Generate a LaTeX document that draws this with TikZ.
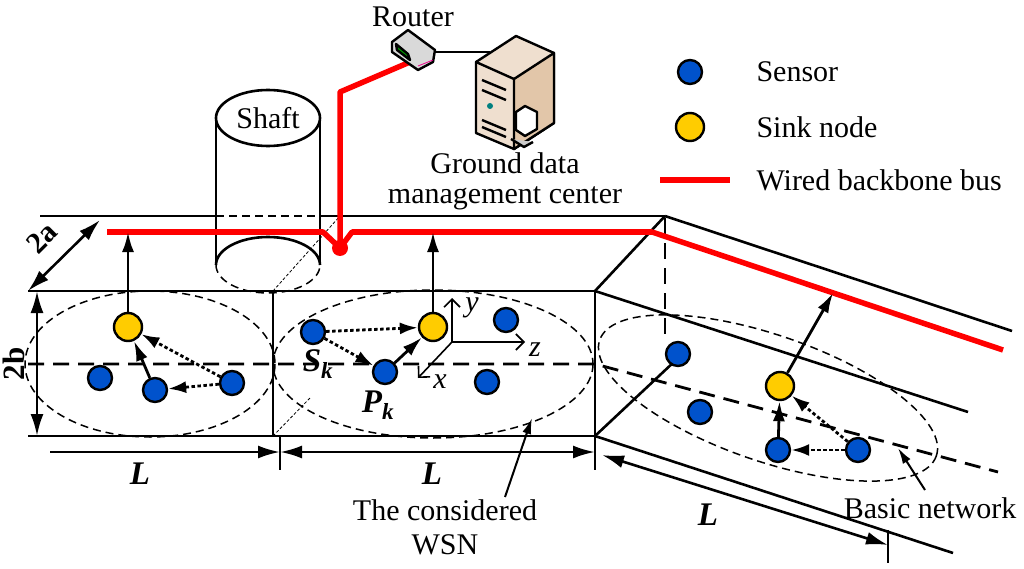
\documentclass[tikz,border=0pt]{standalone}
\usepackage{fontspec}
\setmainfont{Liberation Serif}
\usetikzlibrary{arrows.meta,shapes.geometric}
\begin{document}
\begin{tikzpicture}[x=1pt,y=-1pt,
 sen/.style={circle,draw=black,line width=2.4pt,fill=blue!60!cyan!80!black,minimum size=24pt,inner sep=0pt},
 sink/.style={circle,draw=black,line width=2.4pt,fill=orange!40!yellow,minimum size=28pt,inner sep=0pt},
 edge/.style={line width=2.6pt},
 thin dash/.style={line width=0.8pt,dash pattern=on 3pt off 2pt},
 ell/.style={line width=1.5pt,dash pattern=on 8pt off 5pt},
 mid/.style={line width=2.8pt,dash pattern=on 16pt off 9pt},
 arr/.style={line width=2.8pt,-{Latex[length=20pt,width=12pt]}},
 dot/.style={line width=2.8pt,dash pattern=on 3.5pt off 2.5pt,-{Latex[length=18pt,width=12pt]}},
 dim/.style={line width=2.6pt,{Latex[length=22pt,width=13pt]}-{Latex[length=22pt,width=13pt]}},
 bus/.style={red,line width=5.5pt},
 txt/.style={font=\fontsize{30}{34}\selectfont},
 lab/.style={font=\fontsize{33}{36}\selectfont\bfseries\itshape}]
\useasboundingbox (0,0) rectangle (1024,569);
% shaft
\draw[line width=2.6pt] (216,118) -- (216,265) (320,118) -- (320,265);
\draw[line width=2.6pt] (216,265) arc[start angle=180,end angle=360,x radius=52,y radius=28];
\draw[ell] (216,265) arc[start angle=180,end angle=0,x radius=52,y radius=28];
\node[draw,ellipse,line width=2.6pt,minimum width=104pt,minimum height=56pt,inner sep=0pt,fill=white,txt] (shaft) at (268,118) {Shaft};
% tunnel box
\draw[edge] (40,216) -- (216,216) (320,216) -- (665,216);
\draw[ell] (216,216) -- (320,216);
\draw[edge] (28,291) -- (595,291) (28,436) -- (595,436);
\draw[line width=1.3pt] (273,291) -- (273,436);
\draw[thin dash] (273,291) -- (340,216) (273,436) -- (310,398);
\draw[edge] (595,291) -- (595,470);
\draw[edge] (595,291) -- (665,216);
\draw[edge] (665,216) -- (1012,331) (595,291) -- (968,412) (595,436) -- (953,553);
\draw[mid] (665,218) -- (665,337);
\draw[edge] (595,436) -- (676,360);
\draw[mid] (28,364) -- (595,364) -- (998,472);
% ellipses
\draw[ell] (150,364) ellipse[x radius=125,y radius=73];
\draw[ell] (433,364) ellipse[x radius=160,y radius=74];
\draw[ell,rotate around={-19:(768,398)}] (768,398) ellipse[x radius=178,y radius=63];
% bus
\draw[bus,line join=round] (107,232) -- (323,232) -- (340,248) -- (352,232) -- (652,232) -- (1003,350);
\draw[bus,line join=round] (340,248) -- (340,92) -- (410,62);
\fill[red] (340,248) circle (8);
% router & computer
\node[txt] (router) at (413,17) {Router};
\draw[line width=2.4pt] (430,52) -- (490,52);
\begin{scope}[line width=2.4pt,line join=round]
\draw[fill=gray!30] (392,42) -- (408,30) -- (435,50) -- (433,62) -- (418,70) -- (392,52) -- cycle;
\draw[fill=green!60!black] (396,44) -- (408,54) -- (410,60) -- (397,50) -- cycle;
\draw[magenta,line width=0.8pt] (418,66) -- (433,60);
\end{scope}
\begin{scope}[line width=2.4pt,line join=round]
\draw[fill=brown!25] (476,62) -- (516,36) -- (554,53) -- (554,123) -- (514,149) -- (476,133) -- cycle;
\draw[fill=brown!45] (514,79) -- (554,53) -- (554,123) -- (514,149) -- cycle;
\draw (476,62) -- (514,79);
\draw (482,80) -- (506,90) (482,90) -- (506,100) (482,120) -- (506,130) (482,127) -- (506,137);
\fill[teal] (490,106) circle (3);
\draw[fill=white] (516,112) -- (525,106) -- (537,112) -- (537,129) -- (525,136) -- (516,130) -- cycle;
\draw[fill=gray!40] (511,139) -- (524,147) -- (533,142);
\end{scope}
\node[txt] (gd1) at (505,163) {Ground data};
\node[txt] (gd2) at (505,198) {management center};
% legend
\node[sen] (l1) at (690,72) {};
\node[txt,anchor=west] at (753,72) {Sensor};
\node[sink] (l2) at (690,127) {};
\node[txt,anchor=west] at (753,127) {Sink node};
\draw[bus] (660,180) -- (730,180);
\node[txt,anchor=west] at (753,180) {Wired backbone bus};
% nodes left
\node[sink] (a0) at (128,327) {};
\node[sen] (a1) at (100,378) {};
\node[sen] (a2) at (155,390) {};
\node[sen] (a3) at (232,383) {};
% middle
\node[sink] (b0) at (433,327) {};
\node[sen] (b1) at (313,332) {};
\node[sen] (b2) at (385,372) {};
\node[sen] (b3) at (506,320) {};
\node[sen] (b4) at (487,382) {};
% right
\node[sen] (c1) at (678,354) {};
\node[sink] (c0) at (780,386) {};
\node[sen] (c2) at (700,412) {};
\node[sen] (c3) at (778,450) {};
\node[sen] (c4) at (858,450) {};
\coordinate (ta) at (128,232); \coordinate (tb) at (433,232); \coordinate (tc) at (833,293);
\draw[arr] (a0) -- (ta);
\draw[arr] (b0) -- (tb);
\draw[arr] (c0) -- (tc);
\draw[arr] (a2) -- (a0);
\draw[dot] (a3) -- (a0);
\draw[dot] (a3) -- (a2);
\draw[dot] (b1) -- (b0);
\draw[dot] (b1) -- (b2);
\draw[arr] (b2) -- (b0);
\draw[arr] (c3) -- (c0);
\draw[dot] (c4) -- (c0);
\draw[dot] (c4) -- (c3);
% axes
\coordinate (o) at (452,342);
\draw[line width=1.6pt,-{Straight Barb[length=8pt]}] (o) -- (452,298);
\draw[line width=1.6pt,-{Straight Barb[length=8pt]}] (o) -- (525,342);
\draw[line width=1.6pt,-{Straight Barb[length=8pt]}] (o) -- (418,378);
\node[font=\fontsize{30}{32}\selectfont\itshape] at (472,308) {y};
\node[font=\fontsize{30}{32}\selectfont\itshape] at (535,350) {z};
\node[font=\fontsize{30}{32}\selectfont\itshape] at (440,382) {x};
\node[lab] at (318,364) {S\textsubscript{k}};
\node[lab] at (378,405) {P\textsubscript{k}};
% dimensions
\draw[dim] (37,291) -- (37,436);
\node[font=\fontsize{31}{33}\selectfont\bfseries,rotate=90] at (14,364) {2b};
\draw[dim] (28,291) -- (100,220);
\node[font=\fontsize{30}{32}\selectfont\bfseries,rotate=45,inner sep=0pt] at (42,238) {2a};
\draw[line width=2.6pt] (280,436) -- (280,470) (595,436) -- (595,470);
\draw[line width=2.6pt,-{Latex[length=22pt,width=13pt]}] (50,452) -- (280,452);
\draw[dim] (280,452) -- (595,452);
\node[lab] at (140,474) {L};
\node[lab] at (432,474) {L};
\draw[line width=2.6pt] (888,530) -- (888,563);
\draw[dim] (602,455) -- (888,545);
\node[lab] at (708,515) {L};
% callouts
\node[txt,align=center] (wsn) at (445,527) {The considered\\WSN};
\draw[line width=2pt,-{Latex[length=16pt,width=9pt]}] (505,497) -- (532,418);
\node[txt] (bn) at (930,508) {Basic network};
\draw[line width=2pt,-{Latex[length=16pt,width=9pt]}] (925,490) -- (898,448);
\end{tikzpicture}
\end{document}
